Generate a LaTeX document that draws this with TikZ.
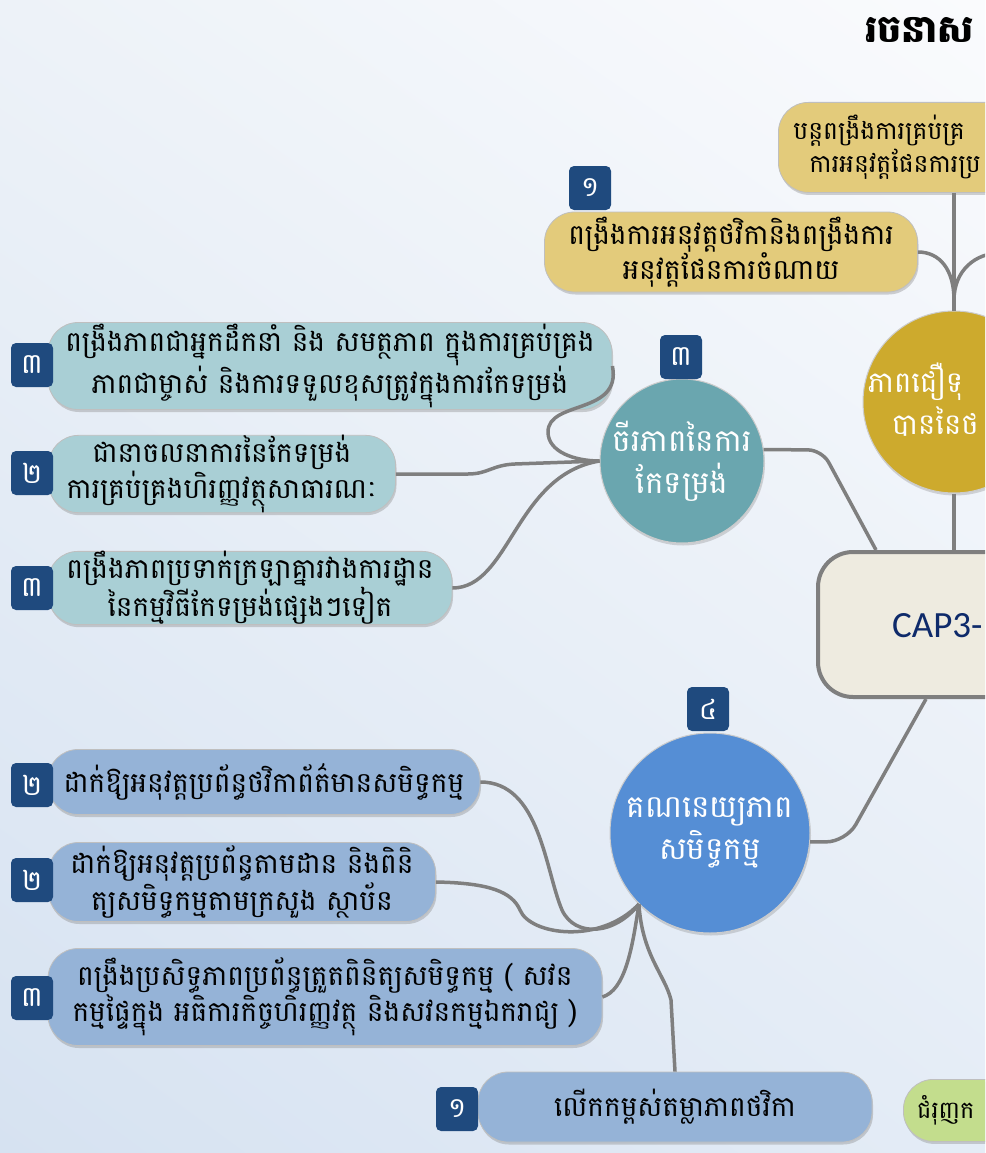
\documentclass[tikz,border=0pt]{standalone}
\usepackage{fontspec}
\setmainfont[Script=Khmer]{Battambang}
\newfontfamily\capfont{Carlito}
\usetikzlibrary{calc,shadows,shadings}

\definecolor{goldbox}{HTML}{E3CB7B}
\definecolor{goldcirc}{HTML}{CDAA2D}
\definecolor{tealcirc}{HTML}{6AA6AF}
\definecolor{tealbox}{HTML}{A9CFD5}
\definecolor{bluecirc}{HTML}{558ED5}
\definecolor{bluebox}{HTML}{95B3D7}
\definecolor{greenbox}{HTML}{C3DD8D}
\definecolor{badgeblue}{HTML}{1F4A7E}
\definecolor{linkgray}{HTML}{7F7F7F}
\definecolor{capbg}{HTML}{EEEBE0}
\definecolor{capblue}{HTML}{0E2A6A}
\definecolor{bgA}{HTML}{EDF2F8}
\definecolor{bgB}{HTML}{FAFBFD}
\definecolor{bgC}{HTML}{D6E2F1}
\definecolor{bgD}{HTML}{E4ECF6}

\newcommand\leaffont{\fontsize{28}{33}\selectfont}
\newcommand\circfont{\fontsize{31}{42}\selectfont}

\begin{document}
\begin{tikzpicture}[x=1pt,y=-1pt,
    link/.style={draw=linkgray,line width=3.5pt},
    badge/.style={fill=badgeblue,text=white,rounded corners=5pt,minimum width=42pt,minimum height=44pt,inner sep=0pt,font=\fontsize{28}{28}\selectfont},
    leaf/.style={rounded corners=30pt,draw=black!25,line width=0.8pt,align=center,inner sep=0pt,font=\leaffont,
        drop shadow={opacity=0.35,shadow xshift=1pt,shadow yshift=-2.5pt}},
    goldleaf/.style={leaf,fill=goldbox},
    tealleaf/.style={leaf,fill=tealbox},
    blueleaf/.style={leaf,fill=bluebox},
    bigcirc/.style={circle,draw=black!20,line width=1pt,inner sep=0pt,text=white,align=center,font=\circfont,
        drop shadow={opacity=0.3,shadow xshift=1pt,shadow yshift=-2.5pt}}]

    \useasboundingbox (0,0) rectangle (985,1153);
    \clip (0,0) rectangle (985,1153);
    \shade[upper left=bgA,upper right=bgB,lower left=bgC,lower right=bgD] (0,0) rectangle (985,1153);

    % title, cut by the edge
    \node[font=\fontsize{38}{38}\selectfont\bfseries,anchor=west] (title) at (862,30) {រចនាស};

    % these are the gold nodes
    \node[goldleaf,anchor=north west,minimum width=420pt,minimum height=90pt,text width=390pt,align=left,font=\fontsize{25}{33}\selectfont] (tbox) at (778,102)
        {បន្តពង្រឹងការគ្រប់គ្រ\\\hspace*{16pt}ការអនុវត្តផែនការប្រ};
    \node[goldleaf,minimum width=373pt,minimum height=80pt] (gbox1) at (731,252) {ពង្រឹងការអនុវត្តថវិកានិងពង្រឹងការ\\អនុវត្តផែនការចំណាយ};
    \node[bigcirc,fill=goldcirc,minimum size=182pt] (gcirc) at (954,402) {};
    \node[font=\fontsize{29}{42}\selectfont,text=white,align=left,anchor=west,inner sep=0pt] (gcirctxt) at (868,400) {ភាពជឿទុ\\\hspace*{24pt}បាននៃថ};

    % the centre box
    \node[draw=linkgray,line width=4pt,fill=capbg,rounded corners=35pt,minimum width=300pt,minimum height=145pt,anchor=north west] (cbox) at (816,550) {};
    \node[font=\capfont\fontsize{37}{37}\selectfont,text=capblue,anchor=base west,inner sep=0pt] (cboxtxt) at (892,637) {CAP3-};

    % these are the teal nodes
    \node[bigcirc,fill=tealcirc,minimum size=164pt] (tcirc) at (682,461) {ចីរភាពនៃការ\\កែទម្រង់};
    \node[tealleaf,minimum width=564pt,minimum height=87pt] (ta) at (330,366) {ពង្រឹងភាពជាអ្នកដឹកនាំ និង សមត្ថភាព ក្នុងការគ្រប់គ្រង\\ភាពជាម្ចាស់ និងការទទួលខុសត្រូវក្នុងការកែទម្រង់};
    \node[tealleaf,minimum width=347pt,minimum height=74pt] (tb) at (222,474) {ជានាចលនាការនៃកែទម្រង់\\ការគ្រប់គ្រងហិរញ្ញវត្ថុសាធារណៈ};
    \node[tealleaf,minimum width=404pt,minimum height=73pt] (tc) at (250,588) {ពង្រឹងភាពប្រទាក់ក្រឡាគ្នារវាងការដ្ឋាន\\នៃកម្មវិធីកែទម្រង់ផ្សេងៗទៀត};

    % these are the blue nodes
    \node[bigcirc,fill=bluecirc,minimum size=200pt] (bcirc) at (710,833) {គណនេយ្យភាព\\សមិទ្ធកម្ម};
    \node[blueleaf,minimum width=432pt,minimum height=65pt] (bd) at (264,782) {ដាក់ឱ្យអនុវត្តប្រព័ន្ធថវិកាព័ត៌មានសមិទ្ធកម្ម};
    \node[blueleaf,minimum width=387pt,minimum height=79pt] (be) at (242,882) {ដាក់ឱ្យអនុវត្តប្រព័ន្ធតាមដាន និងពិនិ\\ត្យសមិទ្ធកម្មតាមក្រសួង ស្ថាប័ន};
    \node[blueleaf,minimum width=554pt,minimum height=97pt] (bf) at (325,997) {ពង្រឹងប្រសិទ្ធភាពប្រព័ន្ធត្រួតពិនិត្យសមិទ្ធកម្ម ( សវន\\កម្មផ្ទៃក្នុង អធិការកិច្ចហិរញ្ញវត្ថុ និងសវនកម្មឯករាជ្យ )};
    \node[blueleaf,minimum width=394pt,minimum height=70pt] (bg) at (675,1107) {លើកកម្ពស់តម្លាភាពថវិកា};

    % green node, cut by the edge
    \node[leaf,fill=greenbox,minimum width=200pt,minimum height=62pt,anchor=north west] (gr) at (903,1079) {};
    \node[font=\fontsize{24}{24}\selectfont,anchor=west,inner sep=0pt] (grtxt) at (917,1110) {ជំរុញក};

    % the number badges
    \node[badge] (n1) at (590,188) {១};
    \node[badge] (n2) at (681,357) {៣};
    \node[badge] (n3) at (708,709) {៤};
    \node[badge] (na) at (32,365) {៣};
    \node[badge] (nb) at (32,473) {២};
    \node[badge] (nc) at (32,588) {៣};
    \node[badge] (nd) at (32,785) {២};
    \node[badge] (ne) at (32,880) {២};
    \node[badge] (nf) at (32,998) {៣};
    \node[badge] (ng) at (457,1109) {១};

    % these are the connectors
    \coordinate (gjoin) at (958,300);
    \coordinate (goff) at (1000,253);
    \draw[link] (tbox.south -| gcirc.north) -- (gcirc.north);
    \draw[link] (gbox1.east) .. controls (940,252) and (954,270) .. (gjoin -| gcirc.north);
    \draw[link] (goff) .. controls (976,253) and (954,270) .. (gjoin -| gcirc.north);
    \draw[link] (gcirc.south) -- (gcirc.south |- cbox.north);
    \draw[link,rounded corners=14pt] (tcirc.8) -- (822,450) -- ($(cbox.north west)+(60,0)$);
    \draw[link,rounded corners=20pt] ($(cbox.south west)+(110,0)$) -- (846,842) -- (bcirc.-5);

    \draw[link] (ta.east) .. controls (622,415) and (548,400) .. (548,432) .. controls (548,452) and (575,461) .. (tcirc.west);
    \draw[link] (tb.east) -- (468,474) .. controls (488,474) and (492,465) .. (515,464) -- (tcirc.west);
    \draw[link] (tc.east) .. controls (510,588) and (515,475) .. (tcirc.west);

    \draw[link] (bd.east) .. controls (540,782) and (545,870) .. (562,910) .. controls (575,938) and (615,935) .. (bcirc.225);
    \draw[link] (be.east) .. controls (490,883) and (512,892) .. (520,910) .. controls (530,935) and (600,945) .. (bcirc.225);
    \draw[link] (bf.east) .. controls (625,990) and (632,950) .. (bcirc.225);
    \draw[link] (bg.north) -- (671,1000) .. controls (665,975) and (642,955) .. (bcirc.225);

\end{tikzpicture}
\end{document}
